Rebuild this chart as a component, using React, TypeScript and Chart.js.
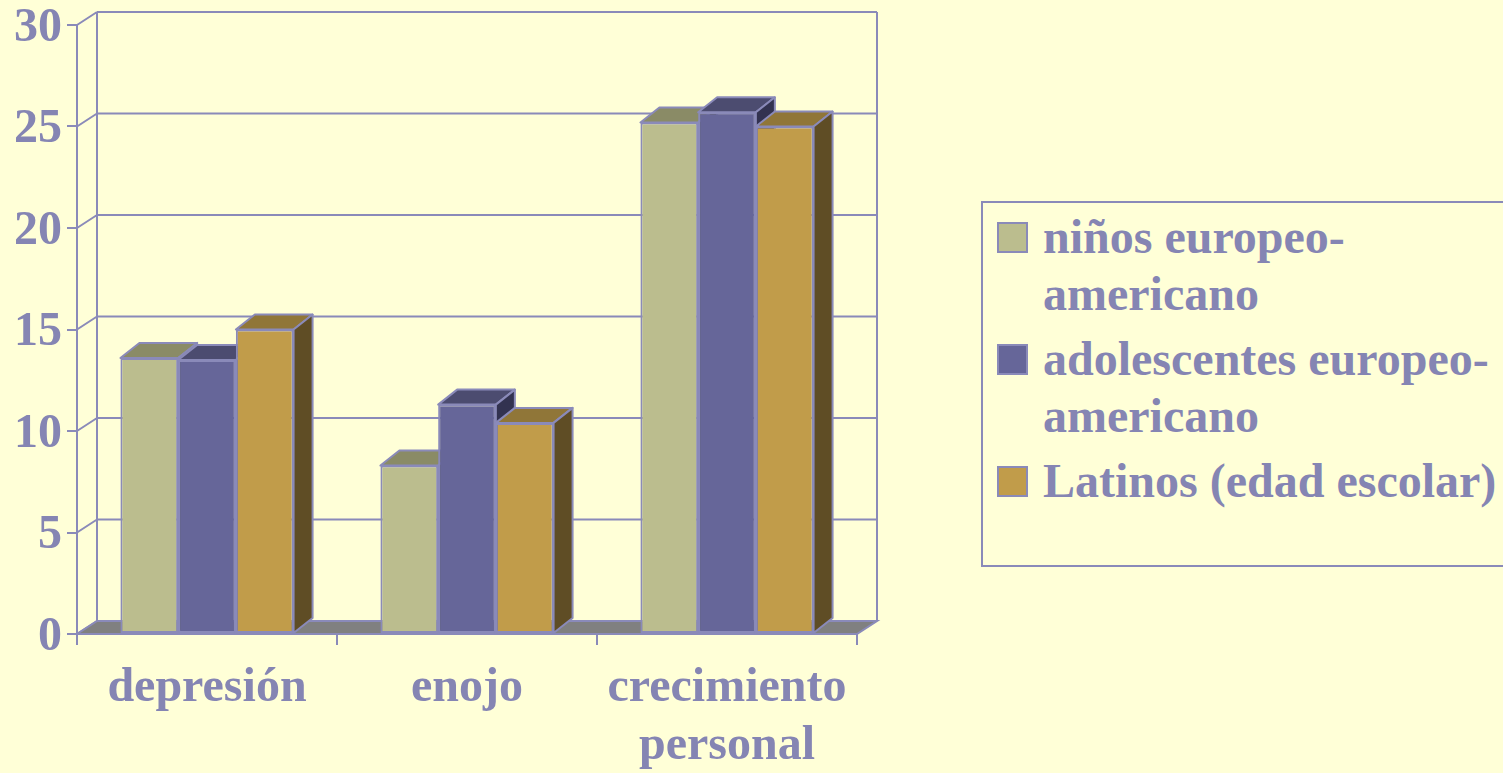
import React, { useEffect, useRef } from "react";
import { Chart, registerables } from "chart.js";

Chart.register(...registerables);

// ---- data ----
const categories: (string | string[])[] = ["depresión", "enojo", ["crecimiento", "personal"]];
const seriesNames = ["niños europeo-americano", "adolescentes europeo-americano", "Latinos (edad escolar)"];
const legendLines = [["niños europeo-", "americano"], ["adolescentes europeo-", "americano"], ["Latinos (edad escolar)"]];
const ninosEuropeoAmericano = [13.6, 8.3, 25.2];
const adolescentesEuropeoAmericano = [13.5, 11.3, 25.7];
const latinosEdadEscolar = [15.0, 10.4, 25.0];
const yMin = 0;
const yMax = 30;
const yStep = 5;

// ---- styles ----
const W = 1503;
const H = 773;
const BG = "#FFFFD7";
const LINE = "#8A8AB9";
const TEXT = "#8585B3";
const FLOOR = "#808080";
const frontColors = ["#BBBD8E", "#666699", "#C19C4A"];
const topColors = ["#8A8B66", "#4C4C70", "#907638"];
const sideColors = ["#5E5F48", "#323250", "#5F4D25"];
const FONT = "'Liberation Serif', 'Times New Roman', serif";
const FONT_SIZE = 48;
const WALL_DX = 20;
const WALL_DY = 13;
const BAR_DX = 19;
const BAR_DY = 15;

function poly(ctx: CanvasRenderingContext2D, pts: number[][], fill: string) {
  ctx.beginPath();
  ctx.moveTo(pts[0][0], pts[0][1]);
  for (let i = 1; i < pts.length; i++) ctx.lineTo(pts[i][0], pts[i][1]);
  ctx.closePath();
  ctx.fillStyle = fill;
  ctx.fill();
  ctx.stroke();
}

const threeD = {
  id: "threeD",
  beforeDraw(chart: any) {
    const { ctx, chartArea: a, scales } = chart;
    const y = scales.y;
    ctx.save();
    ctx.fillStyle = BG;
    ctx.fillRect(0, 0, chart.width, chart.height);
    ctx.strokeStyle = LINE;
    ctx.lineWidth = 2;
    const bl = a.left + WALL_DX;
    const br = a.right + WALL_DX;
    const topBack = y.getPixelForValue(yMax) - WALL_DY;
    const botBack = y.getPixelForValue(yMin) - WALL_DY;
    ctx.beginPath();
    for (const t of y.ticks) {
      const py = y.getPixelForValue(t.value);
      ctx.moveTo(bl, py - WALL_DY);
      ctx.lineTo(br, py - WALL_DY);
      ctx.moveTo(a.left, py);
      ctx.lineTo(bl, py - WALL_DY);
    }
    ctx.moveTo(bl, topBack);
    ctx.lineTo(bl, botBack);
    ctx.moveTo(br, topBack);
    ctx.lineTo(br, botBack);
    ctx.stroke();
    const fy = y.getPixelForValue(yMin);
    poly(ctx, [[a.left, fy], [a.right, fy], [br, fy - WALL_DY], [bl, fy - WALL_DY]], FLOOR);
    ctx.restore();
  },
  beforeDatasetDraw() {
    return false;
  },
  afterDatasetsDraw(chart: any) {
    const ctx = chart.ctx;
    const n = chart.data.labels.length;
    const metas = chart.data.datasets.map((_: any, i: number) => chart.getDatasetMeta(i));
    for (let c = 0; c < n; c++) {
      for (let d = 0; d < metas.length; d++) {
        const el = metas[d].data[c];
        if (!el) continue;
        el.draw(ctx);
        const { x, y, base, width } = el.getProps(["x", "y", "base", "width"], true);
        const l = x - width / 2;
        const r = x + width / 2;
        ctx.save();
        ctx.strokeStyle = LINE;
        ctx.lineWidth = 2;
        ctx.lineJoin = "round";
        poly(ctx, [[l, y], [r, y], [r + BAR_DX, y - BAR_DY], [l + BAR_DX, y - BAR_DY]], topColors[d]);
        poly(ctx, [[r, y], [r + BAR_DX, y - BAR_DY], [r + BAR_DX, base - BAR_DY], [r, base]], sideColors[d]);
        ctx.restore();
      }
    }
  },
};

export default function App() {
  const ref = useRef<HTMLCanvasElement | null>(null);

  useEffect(() => {
    if (!ref.current) return;
    const series = [ninosEuropeoAmericano, adolescentesEuropeoAmericano, latinosEdadEscolar];
    const tickFont = { family: FONT, size: FONT_SIZE, weight: "bold" as const, lineHeight: 1.2 };
    const chart = new Chart(ref.current, {
      type: "bar",
      data: {
        labels: categories as any,
        datasets: series.map((data, i) => ({
          label: seriesNames[i],
          data,
          backgroundColor: frontColors[i],
          borderColor: LINE,
          borderWidth: 2,
          borderSkipped: false,
          categoryPercentage: 0.666,
          barPercentage: 1,
        })),
      },
      options: {
        responsive: false,
        animation: false,
        devicePixelRatio: 1,
        layout: { padding: { left: 0, top: 25, right: W - 857, bottom: 0 } },
        plugins: { legend: { display: false }, tooltip: { enabled: false } },
        scales: {
          x: {
            offset: true,
            grid: { drawOnChartArea: false, drawTicks: true, tickLength: 11, color: LINE, lineWidth: 2, offset: true },
            border: { display: true, color: LINE, width: 2 },
            ticks: { color: TEXT, font: tickFont, padding: 15, maxRotation: 0, autoSkip: false },
            afterFit: (s: any) => {
              s.height = H - 634;
              s.paddingLeft = 0;
              s.paddingRight = 0;
            },
          },
          y: {
            min: yMin,
            max: yMax,
            grid: { drawOnChartArea: false, drawTicks: true, tickLength: 10, color: LINE, lineWidth: 2 },
            border: { display: true, color: LINE, width: 2 },
            ticks: { stepSize: yStep, color: TEXT, font: tickFont, padding: 5, labelOffset: 3.5 },
            afterFit: (s: any) => {
              s.width = 77;
              s.paddingTop = 0;
              s.paddingBottom = 0;
            },
          },
        },
      },
      plugins: [threeD],
    });
    return () => chart.destroy();
  }, []);

  return (
    <div
      style={{
        position: "fixed",
        left: 0,
        top: 0,
        width: W,
        height: H,
        overflow: "hidden",
        background: BG,
      }}
    >
      <canvas ref={ref} width={W} height={H} style={{ display: "block", position: "absolute", left: 0, top: 0 }} />
      <div
        style={{
          position: "absolute",
          left: 981,
          top: 201,
          width: 600,
          height: 366,
          boxSizing: "border-box",
          border: `2px solid ${LINE}`,
          background: BG,
          paddingTop: 4.6,
        }}
      >
        {legendLines.map((lines, i) => (
          <div key={i} style={{ position: "relative", marginBottom: 8, paddingLeft: 60 }}>
            <div
              style={{
                position: "absolute",
                left: 14,
                top: 14.4,
                width: 31,
                height: 31,
                boxSizing: "border-box",
                border: `2px solid ${LINE}`,
                background: frontColors[i],
              }}
            />
            <div
              style={{
                fontFamily: FONT,
                fontWeight: "bold",
                fontSize: FONT_SIZE,
                lineHeight: "57px",
                color: TEXT,
                whiteSpace: "nowrap",
              }}
            >
              {lines.map((t, j) => (
                <div key={j}>{t}</div>
              ))}
            </div>
          </div>
        ))}
      </div>
    </div>
  );
}
